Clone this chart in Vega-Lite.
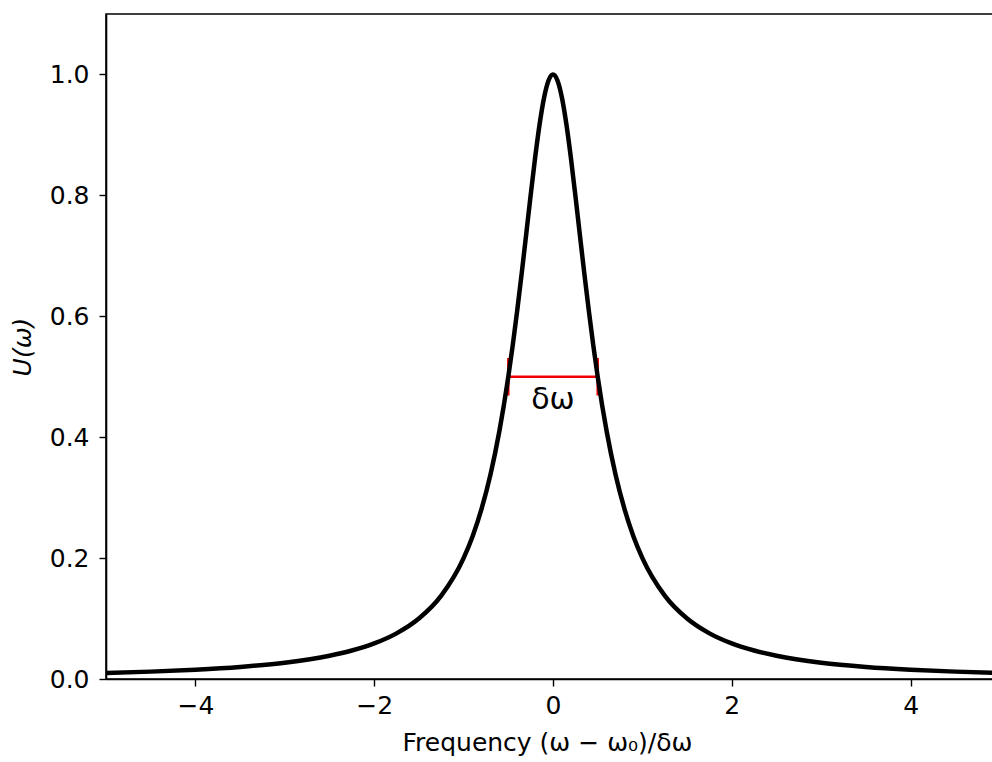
{
  "$schema": "https://vega.github.io/schema/vega-lite/v6.json",
  "autosize": {"type": "none"},
  "padding": {"left": 106, "top": 14, "right": 0, "bottom": 83},
  "width": 894,
  "height": 665,
  "background": "white",
  "config": {
    "view": {"stroke": "black", "strokeWidth": 1.6},
    "font": "DejaVu Sans",
    "axis": {
      "grid": false,
      "domainColor": "black",
      "domainWidth": 1.6,
      "tickColor": "black",
      "tickWidth": 1.4,
      "tickSize": 7,
      "labelColor": "black",
      "labelFont": "DejaVu Sans",
      "labelFontSize": 25,
      "titleColor": "black",
      "titleFont": "DejaVu Sans",
      "titleFontSize": 25,
      "titleFontWeight": "normal"
    }
  },
  "datasets": {
    "curve": [
      {"f": -5.0, "u": 0.0099},
      {"f": -4.5, "u": 0.0122},
      {"f": -4.0, "u": 0.0154},
      {"f": -3.5, "u": 0.0200},
      {"f": -3.0, "u": 0.0270},
      {"f": -2.5, "u": 0.0385},
      {"f": -2.25, "u": 0.0471},
      {"f": -2.0, "u": 0.0588},
      {"f": -1.75, "u": 0.0755},
      {"f": -1.5, "u": 0.1000},
      {"f": -1.25, "u": 0.1379},
      {"f": -1.0, "u": 0.2000},
      {"f": -0.9, "u": 0.2358},
      {"f": -0.8, "u": 0.2809},
      {"f": -0.7, "u": 0.3378},
      {"f": -0.6, "u": 0.4098},
      {"f": -0.5, "u": 0.5000},
      {"f": -0.45, "u": 0.5525},
      {"f": -0.4, "u": 0.6098},
      {"f": -0.35, "u": 0.6711},
      {"f": -0.3, "u": 0.7353},
      {"f": -0.25, "u": 0.8000},
      {"f": -0.2, "u": 0.8621},
      {"f": -0.15, "u": 0.9174},
      {"f": -0.1, "u": 0.9615},
      {"f": -0.05, "u": 0.9901},
      {"f": 0.0, "u": 1.0000},
      {"f": 0.05, "u": 0.9901},
      {"f": 0.1, "u": 0.9615},
      {"f": 0.15, "u": 0.9174},
      {"f": 0.2, "u": 0.8621},
      {"f": 0.25, "u": 0.8000},
      {"f": 0.3, "u": 0.7353},
      {"f": 0.35, "u": 0.6711},
      {"f": 0.4, "u": 0.6098},
      {"f": 0.45, "u": 0.5525},
      {"f": 0.5, "u": 0.5000},
      {"f": 0.6, "u": 0.4098},
      {"f": 0.7, "u": 0.3378},
      {"f": 0.8, "u": 0.2809},
      {"f": 0.9, "u": 0.2358},
      {"f": 1.0, "u": 0.2000},
      {"f": 1.25, "u": 0.1379},
      {"f": 1.5, "u": 0.1000},
      {"f": 1.75, "u": 0.0755},
      {"f": 2.0, "u": 0.0588},
      {"f": 2.25, "u": 0.0471},
      {"f": 2.5, "u": 0.0385},
      {"f": 3.0, "u": 0.0270},
      {"f": 3.5, "u": 0.0200},
      {"f": 4.0, "u": 0.0154},
      {"f": 4.5, "u": 0.0122},
      {"f": 5.0, "u": 0.0099}
    ],
    "halfwidth": [{"f_lo": -0.5, "f_hi": 0.5, "u": 0.5}],
    "caps": [
      {"f": -0.5, "lo": 0.469, "hi": 0.531},
      {"f": 0.5, "lo": 0.469, "hi": 0.531}
    ],
    "label": [{"f": 0.0, "u": 0.461, "text": "δω"}]
  },
  "layer": [
    {
      "data": {"name": "halfwidth"},
      "mark": {"type": "rule", "color": "#f00000", "strokeWidth": 2.5},
      "encoding": {
        "x": {"field": "f_lo", "type": "quantitative",
              "scale": {"domain": [-5, 5], "nice": false, "zero": false},
              "axis": {"values": [-4, -2, 0, 2, 4], "format": "d", "labelPadding": 7,
                       "title": "Frequency (ω − ω₀)/δω", "titlePadding": 12, "titleX": 441}},
        "x2": {"field": "f_hi"},
        "y": {"field": "u", "type": "quantitative",
              "scale": {"domain": [0, 1.1], "nice": false},
              "axis": {"values": [0, 0.2, 0.4, 0.6, 0.8, 1.0], "format": ".1f", "labelPadding": 10,
                       "title": "U(ω)", "titleFontStyle": "italic", "titlePadding": 14}}
      }
    },
    {
      "data": {"name": "caps"},
      "mark": {"type": "rule", "color": "#f00000", "strokeWidth": 2.5},
      "encoding": {
        "x": {"field": "f", "type": "quantitative"},
        "y": {"field": "lo", "type": "quantitative"},
        "y2": {"field": "hi"}
      }
    },
    {
      "data": {"name": "curve"},
      "mark": {"type": "line", "color": "black", "strokeWidth": 4.5, "interpolate": "monotone", "clip": true},
      "encoding": {
        "x": {"field": "f", "type": "quantitative"},
        "y": {"field": "u", "type": "quantitative"}
      }
    },
    {
      "data": {"name": "label"},
      "mark": {"type": "text", "font": "DejaVu Sans", "fontSize": 30, "color": "black", "baseline": "middle", "align": "center"},
      "encoding": {
        "x": {"field": "f", "type": "quantitative"},
        "y": {"field": "u", "type": "quantitative"},
        "text": {"field": "text"}
      }
    }
  ]
}
